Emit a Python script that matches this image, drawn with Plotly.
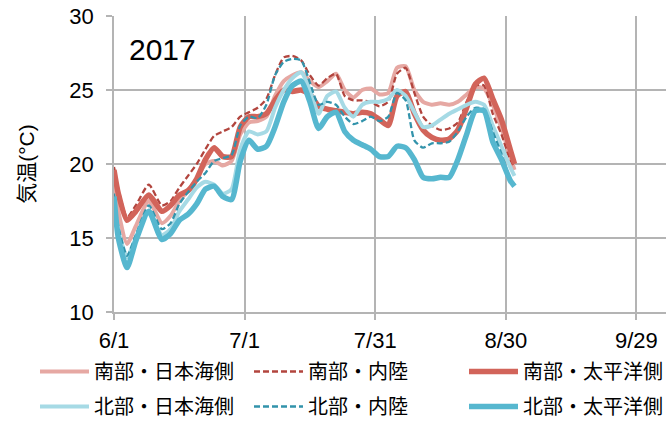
import plotly.graph_objects as go

# day offsets from 6/1 (2017)
days = [0, 1, 3, 5, 8, 11, 13, 15, 17, 19, 21, 23, 25, 27, 29, 31, 33, 35, 37, 39,
        41, 43, 45, 47, 49, 51, 53, 55, 57, 59, 61, 63, 65, 67, 69, 71, 73, 75, 77, 79,
        81, 83, 85, 87, 89, 91, 92]

south_japan_sea = [18.5, 16.8, 14.6, 15.8, 17.5, 16.0, 16.5, 17.5, 18.2, 19.0,
                   20.0, 20.2, 19.9, 20.2, 22.0, 22.8, 22.9, 23.2, 24.6, 25.6,
                   26.0, 26.2, 25.6, 25.2, 25.6, 26.1, 25.0, 24.5, 25.0, 25.1,
                   24.7, 24.8, 26.5, 26.6, 25.0, 24.2, 24.0, 24.1, 24.0, 24.2,
                   24.7, 25.2, 25.1, 24.0, 22.4, 20.5, 19.6]
south_inland = [19.8, 18.3, 16.4, 17.2, 18.6, 17.2, 17.5, 18.4, 19.2, 20.0,
                21.0, 21.9, 22.2, 22.5, 23.2, 23.5, 23.8, 24.4, 26.0, 27.2,
                27.3, 27.0, 26.0, 25.3, 25.8, 26.1, 24.6, 24.3, 24.3, 24.2,
                23.9, 24.2, 26.1, 26.5, 24.8, 23.2, 22.6, 22.3, 22.4, 22.8,
                24.2, 25.3, 25.3, 23.4, 22.0, 20.3, 19.8]
south_pacific = [19.6, 18.0, 16.2, 16.8, 17.9, 16.8, 17.2, 17.9, 18.2, 19.0,
                 20.3, 21.1, 20.5, 20.5, 22.5, 23.2, 23.2, 23.4, 24.3, 25.0,
                 24.9, 25.0, 24.7, 23.9, 23.7, 23.6, 23.5, 23.4, 23.5, 23.4,
                 23.0, 22.6, 24.6, 24.9, 23.4, 22.3, 21.8, 21.6, 21.7, 22.3,
                 23.8, 25.4, 25.8, 24.4, 23.0, 21.0, 20.0]
north_japan_sea = [17.3, 15.5, 13.7, 15.0, 16.8, 15.2, 15.6, 16.8, 17.6, 18.4,
                   18.8, 18.6, 18.0, 18.3, 21.0, 22.2, 22.0, 22.2, 23.8, 25.0,
                   25.8, 26.2, 25.0, 23.4, 24.6, 24.9, 23.8, 23.2, 24.0, 24.2,
                   24.2, 24.4, 25.0, 24.6, 23.5, 22.5, 22.6, 23.0, 23.4, 23.7,
                   24.0, 24.2, 24.0, 22.6, 21.2, 19.8, 19.2]
north_inland = [18.0, 15.8, 13.8, 15.2, 17.2, 15.6, 16.0, 17.3, 18.1, 18.8,
                19.4, 20.2, 20.4, 20.6, 22.6, 23.2, 23.1, 24.0, 26.0, 26.9,
                27.1, 27.0, 25.5, 24.0, 24.2, 24.0, 23.2, 22.7, 22.9, 23.2,
                22.9, 23.2, 24.8, 24.3, 21.6, 21.1, 21.4, 21.4, 21.5, 22.2,
                23.2, 23.8, 23.7, 22.2, 20.7, 19.0, 18.6]
north_pacific = [17.8, 15.0, 13.0, 14.8, 16.8, 14.9, 15.3, 16.2, 16.6, 17.3,
                 18.3, 18.5, 17.8, 17.6, 20.2, 21.6, 21.0, 21.2, 22.5, 24.2,
                 25.3, 25.6, 24.2, 22.4, 23.2, 23.5, 22.2, 21.6, 21.3, 21.0,
                 20.5, 20.5, 21.2, 21.1, 20.3, 19.1, 19.0, 19.1, 19.1, 20.3,
                 22.0, 23.6, 23.6, 21.5, 20.3, 18.9, 18.5]

tick_days = [0, 30, 60, 90, 120]
tick_labels = ["6/1", "7/1", "7/31", "8/30", "9/29"]
y_ticks = [10, 15, 20, 25, 30]

FONT = "Liberation Sans, Arial, Noto Sans CJK JP, sans-serif"
GRID = "#b4b4b4"

series = [
    ("南部・日本海側", south_japan_sea, "#e6a8a3", 4, "solid"),
    ("南部・内陸", south_inland, "#b2453e", 2.3, "6px,3px"),
    ("南部・太平洋側", south_pacific, "#d2645a", 5.5, "solid"),
    ("北部・日本海側", north_japan_sea, "#a6dae5", 4, "solid"),
    ("北部・内陸", north_inland, "#3293ab", 2.3, "6px,3px"),
    ("北部・太平洋側", north_pacific, "#56b7cf", 5.5, "solid"),
]
# legend text start (px) for columns, and row centres (px)
leg_cols = [96, 310, 525]
leg_rows = [374, 409]
ITEMW = 49

fig = go.Figure()
legends = {}
for i, (name, vals, color, width, dash) in enumerate(series):
    key = "legend" if i == 0 else "legend%d" % (i + 1)
    fig.add_trace(go.Scatter(
        x=days, y=vals, name=name, mode="lines",
        line=dict(color=color, width=width, dash=dash, shape="spline", smoothing=0.6),
        legend=key,
    ))
    col, row = i % 3, i // 3
    legends[key] = dict(
        orientation="h", xref="container", yref="container",
        xanchor="left", yanchor="top", itemwidth=ITEMW,
        x=(leg_cols[col] - 42 - (ITEMW - 30)) / 666, y=1 - (leg_rows[row] - 22) / 421,
        font=dict(size=20, color="#000000", family=FONT),
        bgcolor="rgba(0,0,0,0)", borderwidth=0,
    )

fig.update_layout(
    width=666, height=421,
    margin=dict(l=114, r=0, t=16, b=109),
    paper_bgcolor="white", plot_bgcolor="white",
    font=dict(family=FONT, color="#000000"),
    xaxis=dict(
        range=[0, 126.8], tickmode="array", tickvals=tick_days, ticktext=tick_labels,
        showgrid=True, gridcolor=GRID, gridwidth=1.5,
        showline=True, linecolor=GRID, linewidth=1.5,
        ticks="outside", ticklen=6, tickcolor=GRID, tickwidth=1.5,
        tickfont=dict(size=22, family=FONT), ticklabelstandoff=2,
        zeroline=False, fixedrange=True, automargin=False,
    ),
    yaxis=dict(
        range=[10, 30], tickmode="array", tickvals=y_ticks,
        showgrid=True, gridcolor=GRID, gridwidth=1.5,
        showline=True, linecolor=GRID, linewidth=1.5,
        ticks="outside", ticklen=6, tickcolor=GRID, tickwidth=1.5,
        tickfont=dict(size=22, family=FONT), ticklabelstandoff=8,
        title=dict(text="気温(°C)", font=dict(size=21, family=FONT), standoff=29),
        zeroline=False, fixedrange=True, automargin=False,
    ),
    annotations=[dict(
        text="2017", xref="paper", yref="paper", x=0.024, y=0.886,
        xanchor="left", yanchor="middle", showarrow=False,
        font=dict(size=30, family=FONT, color="#000000"),
    )],
    showlegend=True,
    **legends,
)

fig.write_html("out.html", config={"displayModeBar": False},
               post_script="document.body.style.margin='0px';")
